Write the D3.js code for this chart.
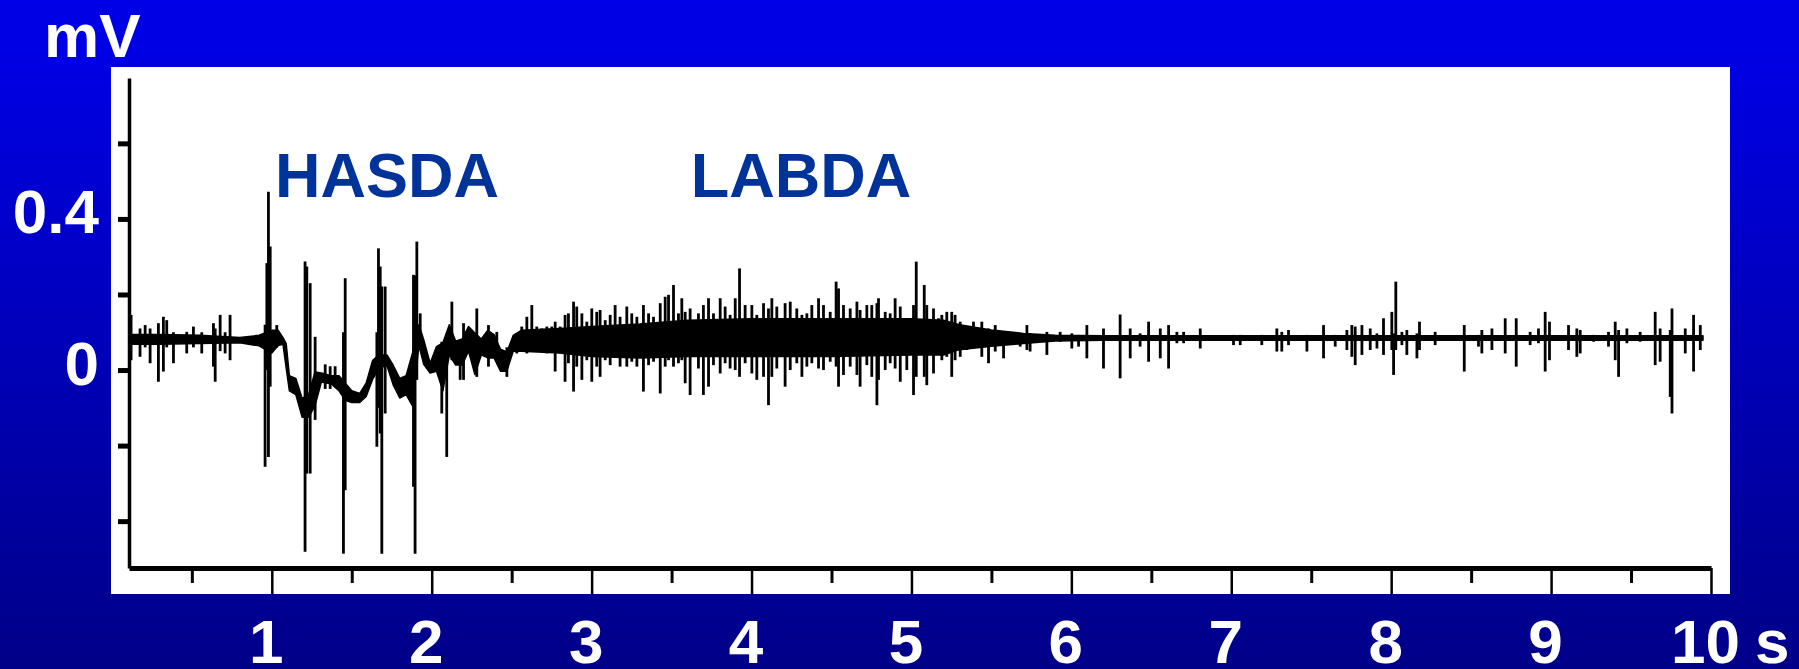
<!DOCTYPE html>
<html>
<head>
<meta charset="utf-8">
<script src="https://cdn.jsdelivr.net/npm/d3@7"></script>
<style>
  html, body { margin: 0; padding: 0; background: #000088; }
  svg { display: block; }
  text { font-family: "Liberation Sans", Arial, sans-serif; font-weight: bold; }
</style>
</head>
<body>
<div id="chart"></div>
<script>
// Axis ticks and labels
const yTicks = [-0.4, -0.2, 0, 0.2, 0.4, 0.6];
const yLabels = [0, 0.4];
const xMajor = [1, 2, 3, 4, 5, 6, 7, 8, 9, 10];
const xMinor = [0.5, 1.5, 2.5, 3.5, 4.5, 5.5, 6.5, 7.5, 8.5, 9.5];

// Annotations (time in s, value in mV)
const annoText = ["HASDA", "LABDA"];
const annoT = [1.02, 3.62];
const annoV = [0.458, 0.458];

// Core band of the EMG trace (s, mV)
const coreT = [0.11, 0.30, 0.55, 0.80, 0.92, 1.00, 1.04, 1.07, 1.09, 1.11,
               1.15, 1.19, 1.23, 1.27, 1.31, 1.37, 1.42, 1.46, 1.50, 1.55,
               1.59, 1.63, 1.67, 1.72, 1.76, 1.80, 1.84, 1.88, 1.92, 1.95,
               1.99, 2.03, 2.07, 2.11, 2.15, 2.19, 2.23, 2.27, 2.31, 2.35,
               2.39, 2.43, 2.47, 2.51, 2.56, 2.80, 3.00, 3.30, 3.60, 4.00,
               4.50, 5.00, 5.20, 5.30, 5.50, 5.70, 5.90, 6.20, 9.95];
const coreHi = [0.094, 0.094, 0.092, 0.086, 0.092, 0.105, 0.105, 0.086, 0.070, -0.015,
                -0.022, -0.075, -0.065, -0.005, -0.008, -0.015, -0.015, -0.035, -0.055, -0.062,
                -0.035, 0.025, 0.040, 0.040, 0.012, -0.022, -0.015, 0.045, 0.120, 0.080,
                0.018, 0.062, 0.072, 0.120, 0.076, 0.082, 0.115, 0.098, 0.082, 0.105,
                0.094, 0.055, 0.048, 0.092, 0.105, 0.110, 0.115, 0.122, 0.132, 0.136,
                0.136, 0.136, 0.132, 0.120, 0.106, 0.097, 0.092, 0.091, 0.091];
const coreLo = [0.068, 0.068, 0.070, 0.072, 0.064, 0.045, 0.065, 0.068, 0.005, -0.055,
                -0.065, -0.125, -0.125, -0.095, -0.032, -0.036, -0.055, -0.080, -0.086, -0.086,
                -0.070, -0.025, 0.005, 0.012, -0.040, -0.074, -0.065, -0.095, 0.065, 0.015,
                -0.008, -0.003, -0.055, 0.040, 0.013, 0.013, 0.050, -0.012, 0.040, 0.032,
                0.032, -0.003, -0.003, 0.050, 0.050, 0.045, 0.036, 0.032, 0.036, 0.036,
                0.036, 0.040, 0.040, 0.054, 0.063, 0.070, 0.077, 0.079, 0.079];

// Spikes, HASDA part (s, max mV, min mV)
const hasdaT = [0.120, 0.176, 0.208, 0.239, 0.291, 0.322, 0.343, 0.385, 0.468, 0.510,
                0.562, 0.635, 0.646, 0.677, 0.708, 0.739, 0.958, 0.969, 0.979, 0.990,
                1.031, 1.208, 1.219, 1.240, 1.271, 1.334, 1.365, 1.396, 1.448, 1.459,
                1.657, 1.667, 1.678, 1.688, 1.709, 1.886, 1.896, 1.907, 1.928, 2.063,
                2.094, 2.126, 2.178, 2.199, 2.282, 2.355, 2.407, 2.470];
const hasdaHi = [0.146, 0.110, 0.119, 0.110, 0.124, 0.141, 0.132, 0.100, 0.101, 0.115,
                 0.100, 0.124, 0.110, 0.146, 0.100, 0.146, 0.120, 0.283, 0.472, 0.327,
                 0.119, 0.287, 0.274, 0.230, 0.088, 0.015, 0.010, 0.010, 0.100, 0.243,
                 0.100, 0.322, 0.274, 0.221, 0.221, 0.252, 0.250, 0.340, 0.150, 0.075,
                 0.070, 0.181, 0.076, 0.124, 0.163, 0.119, 0.101, 0.060];
const hasdaLo = [0.026, 0.035, 0.060, 0.018, -0.031, -0.004, 0.060, 0.018, 0.044, 0.060,
                 0.044, 0.009, -0.031, 0.050, 0.044, 0.026, -0.256, 0.000, -0.230, -0.044,
                 0.060, -0.481, -0.274, -0.274, -0.132, -0.050, -0.050, -0.045, -0.486, -0.318,
                 -0.203, -0.100, -0.168, -0.486, -0.115, -0.309, -0.486, -0.026, 0.079, -0.115,
                 -0.230, 0.026, -0.026, -0.026, -0.018, 0.009, 0.022, -0.018];

// Spikes, LABDA part
const labdaT = [2.532, 2.563, 2.595, 2.626, 2.657, 2.688, 2.720, 2.751, 2.772, 2.803,
                2.834, 2.855, 2.887, 2.907, 2.939, 2.970, 3.001, 3.032, 3.053, 3.085,
                3.116, 3.147, 3.178, 3.220, 3.251, 3.283, 3.324, 3.356, 3.387, 3.429,
                3.460, 3.481, 3.512, 3.543, 3.564, 3.585, 3.616, 3.668, 3.699, 3.731,
                3.762, 3.804, 3.835, 3.866, 3.898, 3.925, 3.960, 4.002, 4.033, 4.075,
                4.106, 4.127, 4.158, 4.210, 4.242, 4.283, 4.315, 4.346, 4.377, 4.419,
                4.450, 4.492, 4.529, 4.544, 4.575, 4.617, 4.659, 4.679, 4.721, 4.752,
                4.784, 4.794, 4.836, 4.867, 4.898, 4.930, 4.971, 5.013, 5.030, 5.080,
                5.096, 5.138, 5.169];
const labdaHi = [0.097, 0.115, 0.141, 0.172, 0.115, 0.110, 0.115, 0.115, 0.128, 0.115,
                 0.146, 0.150, 0.181, 0.168, 0.150, 0.128, 0.163, 0.154, 0.159, 0.132,
                 0.146, 0.172, 0.141, 0.168, 0.150, 0.141, 0.172, 0.150, 0.141, 0.177,
                 0.194, 0.199, 0.225, 0.150, 0.190, 0.154, 0.163, 0.150, 0.172, 0.190,
                 0.150, 0.190, 0.168, 0.146, 0.190, 0.269, 0.172, 0.172, 0.146, 0.177,
                 0.163, 0.190, 0.168, 0.177, 0.181, 0.163, 0.146, 0.150, 0.172, 0.190,
                 0.172, 0.154, 0.234, 0.216, 0.172, 0.163, 0.181, 0.159, 0.172, 0.172,
                 0.177, 0.190, 0.154, 0.150, 0.190, 0.168, 0.132, 0.172, 0.287, 0.225,
                 0.172, 0.163, 0.137];
const labdaLo = [0.044, 0.053, 0.044, 0.062, 0.049, 0.053, 0.044, 0.053, -0.004, 0.044,
                 -0.031, 0.018, -0.057, 0.009, -0.026, 0.026, -0.031, 0.009, -0.018, 0.026,
                 0.013, 0.035, 0.009, 0.009, 0.022, 0.009, -0.057, 0.013, 0.022, -0.062,
                 0.009, 0.026, 0.009, 0.018, 0.026, -0.035, -0.066, 0.004, -0.066, -0.044,
                 0.013, -0.009, 0.018, 0.004, 0.000, -0.018, 0.018, -0.009, -0.026, -0.018,
                 -0.093, -0.018, 0.004, -0.044, 0.000, 0.018, -0.018, 0.009, 0.018, 0.004,
                 0.000, 0.022, 0.009, -0.044, -0.013, 0.009, -0.013, -0.044, 0.013, -0.018,
                 -0.093, -0.026, 0.000, 0.018, 0.004, -0.031, 0.000, -0.066, -0.018, -0.018,
                 -0.040, -0.009, 0.053];

// Spikes, tail part
const tailT = [5.190, 5.221, 5.252, 5.273, 5.305, 5.346, 5.388, 5.440, 5.482, 5.524,
               5.576, 5.628, 5.680, 5.722, 5.742, 5.847, 5.930, 6.003, 6.045, 6.097,
               6.201, 6.305, 6.368, 6.430, 6.483, 6.556, 6.608, 6.660, 6.702, 6.806,
               7.014, 7.056, 7.191, 7.285, 7.316, 7.358, 7.473, 7.577, 7.650, 7.723,
               7.754, 7.775, 7.817, 7.869, 7.911, 7.952, 8.004, 8.015, 8.029, 8.067,
               8.098, 8.161, 8.177, 8.275, 8.457, 8.546, 8.567, 8.630, 8.713, 8.782,
               8.869, 8.921, 8.963, 8.990, 9.109, 9.161, 9.182, 9.266, 9.359, 9.401,
               9.422, 9.474, 9.557, 9.651, 9.682, 9.745, 9.756, 9.839, 9.891, 9.933];
const tailHi = [0.146, 0.154, 0.154, 0.146, 0.128, 0.110, 0.128, 0.128, 0.110, 0.119,
                0.101, 0.097, 0.097, 0.119, 0.097, 0.101, 0.101, 0.097, 0.093, 0.119,
                0.110, 0.147, 0.110, 0.097, 0.128, 0.110, 0.119, 0.101, 0.101, 0.110,
                0.093, 0.093, 0.093, 0.110, 0.101, 0.106, 0.093, 0.119, 0.093, 0.106,
                0.119, 0.115, 0.119, 0.110, 0.097, 0.137, 0.154, 0.097, 0.234, 0.101,
                0.106, 0.097, 0.128, 0.101, 0.119, 0.093, 0.106, 0.110, 0.137, 0.137,
                0.101, 0.110, 0.154, 0.128, 0.119, 0.110, 0.106, 0.093, 0.101, 0.128,
                0.106, 0.110, 0.101, 0.154, 0.110, 0.106, 0.163, 0.110, 0.146, 0.119];
const tailLo = [0.026, 0.035, -0.018, 0.026, 0.035, 0.053, 0.062, 0.035, 0.018, 0.049,
                0.031, 0.071, 0.062, 0.053, 0.049, 0.040, 0.075, 0.057, 0.062, 0.031,
                0.004, -0.022, 0.031, 0.062, 0.022, 0.031, 0.004, 0.071, 0.071, 0.057,
                0.066, 0.066, 0.066, 0.049, 0.049, 0.066, 0.049, 0.031, 0.062, 0.053,
                0.035, 0.013, 0.040, 0.053, 0.057, 0.040, 0.053, -0.013, 0.053, 0.066,
                0.040, 0.031, 0.053, 0.066, -0.004, 0.062, 0.044, 0.053, 0.044, 0.009,
                0.066, 0.071, -0.004, 0.026, 0.053, 0.035, 0.044, 0.075, 0.062, 0.026,
                -0.018, 0.071, 0.075, 0.013, 0.022, -0.071, -0.115, 0.044, -0.004, 0.053];

// Canvas
const W = 1799, H = 669;

const svg = d3.select("#chart")
  .append("svg")
    .attr("width", W)
    .attr("height", H);

// Blue background gradient
const grad = svg.append("defs").append("linearGradient")
    .attr("id", "bg")
    .attr("x1", 0).attr("y1", 0).attr("x2", 0).attr("y2", 1);
grad.append("stop").attr("offset", "0").attr("stop-color", "#0000e6");
grad.append("stop").attr("offset", "0.1").attr("stop-color", "#0000e3");
grad.append("stop").attr("offset", "1").attr("stop-color", "#000088");

svg.append("rect")
    .attr("width", W)
    .attr("height", H)
    .attr("fill", "url(#bg)");

// White plot panel
svg.append("rect")
    .attr("x", 111)
    .attr("y", 67)
    .attr("width", 1730 - 111)
    .attr("height", 594 - 67)
    .attr("fill", "#ffffff");

// Scales
const x = d3.scaleLinear().domain([0.107, 10]).range([129, 1711]);
const y = d3.scaleLinear().domain([-0.524, 0.773]).range([568, 78]);

// Core band
const core = coreT.map((t, i) => ({t: t, hi: coreHi[i], lo: coreLo[i]}));
const area = d3.area()
    .x(d => x(d.t))
    .y0(d => y(d.lo))
    .y1(d => y(d.hi));

svg.append("path")
    .datum(core)
    .attr("d", area)
    .attr("fill", "#000")
    .attr("stroke", "#000")
    .attr("stroke-width", 1.5)
    .attr("stroke-linejoin", "round");

// Spikes
const spikes = []
  .concat(hasdaT.map((t, i) => ({t: t, hi: hasdaHi[i], lo: hasdaLo[i]})))
  .concat(labdaT.map((t, i) => ({t: t, hi: labdaHi[i], lo: labdaLo[i]})))
  .concat(tailT.map((t, i) => ({t: t, hi: tailHi[i], lo: tailLo[i]})));

svg.append("g")
  .selectAll("line")
  .data(spikes)
  .join("line")
    .attr("x1", d => x(d.t))
    .attr("x2", d => x(d.t))
    .attr("y1", d => y(d.hi))
    .attr("y2", d => y(d.lo))
    .attr("stroke", "#000")
    .attr("stroke-width", 2.8);

// Y axis
const yAxis = svg.append("g")
    .attr("transform", `translate(${x(0.107)},0)`)
    .call(d3.axisLeft(y).tickValues(yTicks).tickSize(11).tickSizeOuter(0).tickFormat(""));
yAxis.select(".domain").attr("stroke", "#000").attr("stroke-width", 3.5);
yAxis.selectAll(".tick line").attr("stroke", "#000").attr("stroke-width", 5);

// Y labels (on the blue margin)
const yLab = svg.append("g")
    .attr("transform", `translate(${x(0.107)},0)`)
    .call(d3.axisLeft(y).tickValues(yLabels).tickSize(0).tickPadding(30).tickFormat(d => String(d)));
yLab.select(".domain").remove();
yLab.selectAll("text")
    .attr("dy", "14px")
    .attr("fill", "#fff")
    .style("font-size", "62px")
    .style("font-family", "'Liberation Sans', Arial, sans-serif")
    .style("font-weight", "bold");

// X axis with major and minor ticks
const xAxis = svg.append("g")
    .attr("transform", `translate(0,${y(-0.524)})`)
    .call(d3.axisBottom(x).tickValues(xMajor).tickSize(26).tickSizeOuter(0).tickFormat(""));
xAxis.select(".domain").attr("stroke", "#000").attr("stroke-width", 5);
xAxis.selectAll(".tick line").attr("stroke", "#000").attr("stroke-width", 2.5);

const xMin = svg.append("g")
    .attr("transform", `translate(0,${y(-0.524)})`)
    .call(d3.axisBottom(x).tickValues(xMinor).tickSize(15).tickFormat(""));
xMin.select(".domain").remove();
xMin.selectAll(".tick line").attr("stroke", "#000").attr("stroke-width", 3);

// X labels
const xLab = svg.append("g")
    .attr("transform", `translate(0,${y(-0.524)})`)
    .call(d3.axisBottom(x).tickValues(xMajor).tickSize(0).tickFormat(d => String(d)));
xLab.select(".domain").remove();
xLab.selectAll("text")
    .attr("y", 95)
    .attr("dy", 0)
    .attr("dx", "-6px")
    .attr("fill", "#fff")
    .style("font-size", "62px")
    .style("font-family", "'Liberation Sans', Arial, sans-serif")
    .style("font-weight", "bold");

// Unit labels
svg.append("text")
    .attr("x", x(10) + 44)
    .attr("y", y(-0.524) + 95)
    .attr("fill", "#fff")
    .style("font-size", "62px")
    .text("s");

svg.append("text")
    .attr("x", 44)
    .attr("y", 57)
    .attr("fill", "#fff")
    .style("font-size", "62px")
    .text("mV");

// HASDA / LABDA annotations
annoText.forEach((label, i) => {
    svg.append("text")
        .attr("x", x(annoT[i]))
        .attr("y", y(annoV[i]))
        .attr("fill", "#003399")
        .style("font-size", "63px")
        .text(label);
});
</script>
</body>
</html>
